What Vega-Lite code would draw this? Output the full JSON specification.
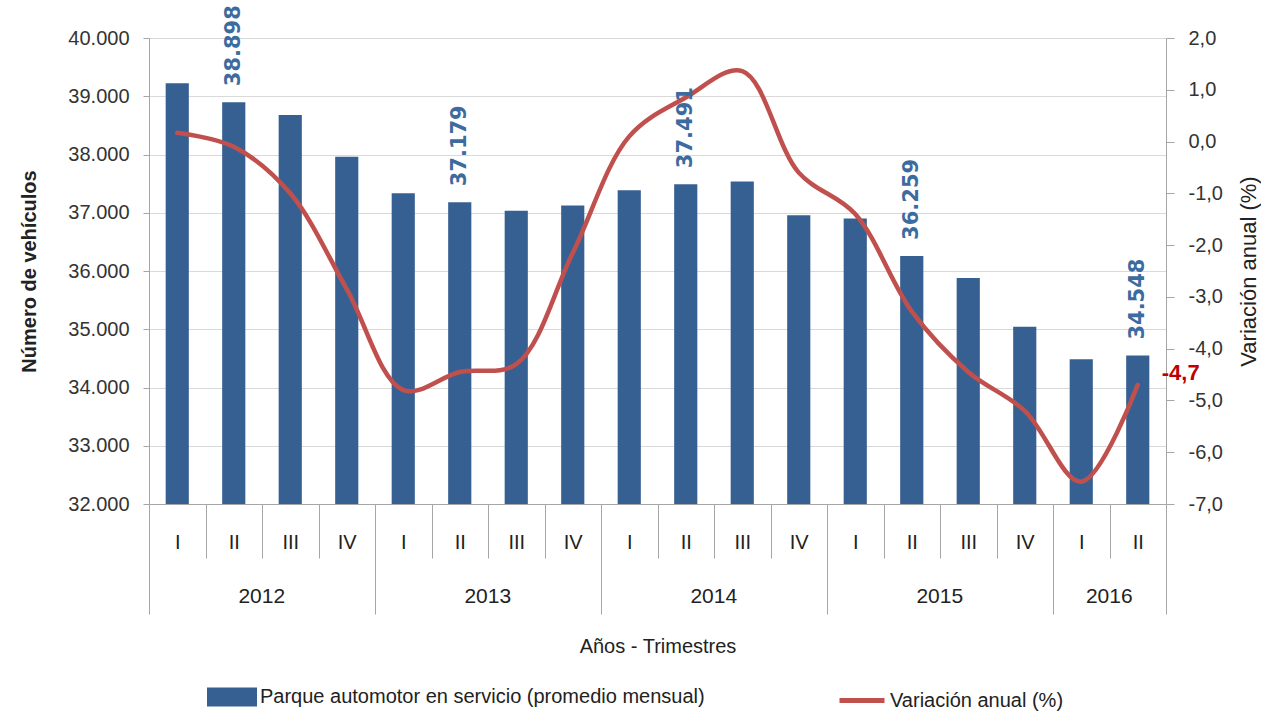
{
  "$schema": "https://vega.github.io/schema/vega-lite/v6.json",
  "width": 1017,
  "height": 466,
  "autosize": "none",
  "padding": {"left": 149, "top": 38, "right": 95, "bottom": 207},
  "background": "white",
  "config": {
    "view": {"stroke": null},
    "locale": {"number": {"decimal": ",", "thousands": ".", "grouping": [3], "currency": ["", " €"], "minus": "-"}},
    "axis": {"labelFont": "Liberation Sans", "titleFont": "Liberation Sans", "labelColor": "#333333", "titleColor": "#222222"}
  },
  "data": {
    "values": [
      {"periodo": "2012-I", "q": "I", "parque": 39225, "var": 0.17},
      {"periodo": "2012-II", "q": "II", "parque": 38898, "var": -0.1},
      {"periodo": "2012-III", "q": "III", "parque": 38680, "var": -1.0},
      {"periodo": "2012-IV", "q": "IV", "parque": 37962, "var": -2.85},
      {"periodo": "2013-I", "q": "I", "parque": 37335, "var": -4.8},
      {"periodo": "2013-II", "q": "II", "parque": 37179, "var": -4.45},
      {"periodo": "2013-III", "q": "III", "parque": 37035, "var": -4.3},
      {"periodo": "2013-IV", "q": "IV", "parque": 37125, "var": -2.15},
      {"periodo": "2014-I", "q": "I", "parque": 37385, "var": 0.1},
      {"periodo": "2014-II", "q": "II", "parque": 37491, "var": 0.85},
      {"periodo": "2014-III", "q": "III", "parque": 37535, "var": 1.36},
      {"periodo": "2014-IV", "q": "IV", "parque": 36955, "var": -0.6},
      {"periodo": "2015-I", "q": "I", "parque": 36900, "var": -1.4},
      {"periodo": "2015-II", "q": "II", "parque": 36259, "var": -3.28},
      {"periodo": "2015-III", "q": "III", "parque": 35878, "var": -4.45},
      {"periodo": "2015-IV", "q": "IV", "parque": 35045, "var": -5.2},
      {"periodo": "2016-I", "q": "I", "parque": 34485, "var": -6.57},
      {"periodo": "2016-II", "q": "II", "parque": 34548, "var": -4.7}
    ]
  },
  "resolve": {
    "scale": {"y": "independent"},
    "axis": {"x": "independent", "y": "independent"}
  },
  "layer": [
    {
      "mark": {"type": "bar", "width": {"band": 0.41}},
      "encoding": {
        "x": {
          "field": "periodo", "type": "nominal", "sort": null,
          "scale": {"type": "band", "paddingInner": 0, "paddingOuter": 0,
            "domain": ["2012-I","2012-II","2012-III","2012-IV","2013-I","2013-II","2013-III","2013-IV","2014-I","2014-II","2014-III","2014-IV","2015-I","2015-II","2015-III","2015-IV","2016-I","2016-II"]},
          "axis": {
            "orient": "bottom", "title": null, "labelExpr": "split(datum.label, '-')[1]", "labelAngle": 0,
            "tickBand": "extent", "tickSize": 54, "tickColor": "#A6A6A6", "domainColor": "#A6A6A6",
            "labelPadding": -26, "labelFont": "Liberation Sans", "labelFontSize": 20,
            "labelColor": "#222222", "grid": false
          }
        },
        "y": {
          "field": "parque", "type": "quantitative",
          "scale": {"domain": [32000, 40000], "nice": false, "zero": false},
          "axis": {
            "title": "Número de vehículos",
            "values": [32000, 33000, 34000, 35000, 36000, 37000, 38000, 39000, 40000],
            "format": ",d", "grid": true, "gridColor": "#D9D9D9", "tickSize": 6,
            "tickColor": "#A6A6A6", "domainColor": "#A6A6A6", "labelFontSize": 20,
            "labelPadding": 14, "titleFontSize": 20, "titleFontWeight": "bold", "titlePadding": 28
          }
        },
        "y2": {"datum": 32000},
        "color": {
          "datum": "Parque automotor en servicio (promedio mensual)", "type": "nominal",
          "scale": {"domain": ["Parque automotor en servicio (promedio mensual)", "Variación anual (%)"], "range": ["#376092", "#C0504D"]},
          "legend": {
            "orient": "none", "legendX": 58, "legendY": 634, "direction": "horizontal", "columns": 2,
            "columnPadding": 124, "title": null, "labelFont": "Liberation Sans", "labelFontSize": 20,
            "labelColor": "#222222", "labelLimit": 700, "symbolSize": 2025, "labelOffset": 3,
            "encode": {
              "symbols": {
                "update": {
                  "shape": {"signal": "datum.value === 'Variación anual (%)' ? 'stroke' : 'M-1,-0.31H1V0.31H-1Z'"},
                  "fill": {"signal": "datum.value === 'Variación anual (%)' ? 'transparent' : '#376092'"},
                  "stroke": {"signal": "datum.value === 'Variación anual (%)' ? '#C0504D' : 'transparent'"},
                  "strokeWidth": {"value": 5}
                }
              }
            }
          }
        }
      }
    },
    {
      "mark": {"type": "line", "interpolate": "catmull-rom", "strokeWidth": 4.5, "strokeCap": "round"},
      "encoding": {
        "x": {
          "field": "periodo", "type": "nominal", "sort": null,
          "axis": {"orient": "bottom", "title": null, "values": ["2016-II"], "bandPosition": 1, "tickSize": 110, "labels": false, "domain": false, "tickColor": "#A6A6A6", "grid": false}
        },
        "y": {
          "field": "var", "type": "quantitative",
          "scale": {"domain": [-7, 2], "nice": false, "zero": false},
          "axis": {
            "orient": "right", "title": "Variación anual (%)",
            "values": [-7, -6, -5, -4, -3, -2, -1, 0, 1, 2],
            "format": ".1f", "grid": false, "tickSize": 8, "tickColor": "#A6A6A6", "domainColor": "#A6A6A6",
            "labelFontSize": 20, "labelPadding": 14, "titleFontSize": 22, "titleFontWeight": "normal",
            "titlePadding": 16, "titleAngle": 270, "titleBaseline": "top"
          }
        },
        "color": {"datum": "Variación anual (%)", "type": "nominal"}
      }
    },
    {
      "transform": [{"filter": "datum.q === 'II'"}],
      "mark": {"type": "text", "angle": 270, "align": "left", "baseline": "middle", "dx": 16, "font": "DejaVu Sans", "fontSize": 21, "fontWeight": "bold", "color": "#3C6BA0"},
      "encoding": {
        "x": {
          "field": "periodo", "type": "nominal", "sort": null,
          "axis": {"orient": "bottom", "title": null, "values": ["2012-I", "2013-I", "2014-I", "2015-I", "2016-I"], "bandPosition": 0, "tickSize": 110, "labels": false, "domain": false, "tickColor": "#A6A6A6", "grid": false}
        },
        "y": {"field": "parque", "type": "quantitative", "scale": {"domain": [32000, 40000], "nice": false, "zero": false}, "axis": null},
        "text": {"field": "parque", "type": "quantitative", "format": ",d"}
      }
    },
    {
      "transform": [{"filter": "datum.periodo === '2016-II'"}],
      "mark": {"type": "text", "align": "left", "baseline": "middle", "dx": 24, "dy": -12, "font": "Liberation Sans", "fontSize": 22, "fontWeight": "bold", "color": "#C00000"},
      "encoding": {
        "x": {
          "field": "periodo", "type": "nominal", "sort": null,
          "axis": {
            "orient": "bottom", "title": "Años - Trimestres", "values": ["2012-II", "2013-II", "2014-II", "2015-II", "2016-I"],
            "ticks": false, "tickSize": 0, "domain": false, "labelOffset": 28,
            "labelExpr": "split(datum.label, '-')[0]", "labelAngle": 0, "labelPadding": 81,
            "labelFont": "Liberation Sans", "labelFontSize": 21, "labelColor": "#222222",
            "titleFont": "Liberation Sans", "titleFontSize": 20, "titleFontWeight": "normal",
            "titlePadding": 30, "grid": false
          }
        },
        "y": {"field": "var", "type": "quantitative", "scale": {"domain": [-7, 2], "nice": false, "zero": false}, "axis": null},
        "text": {"field": "var", "type": "quantitative", "format": ".1f"}
      }
    }
  ]
}
